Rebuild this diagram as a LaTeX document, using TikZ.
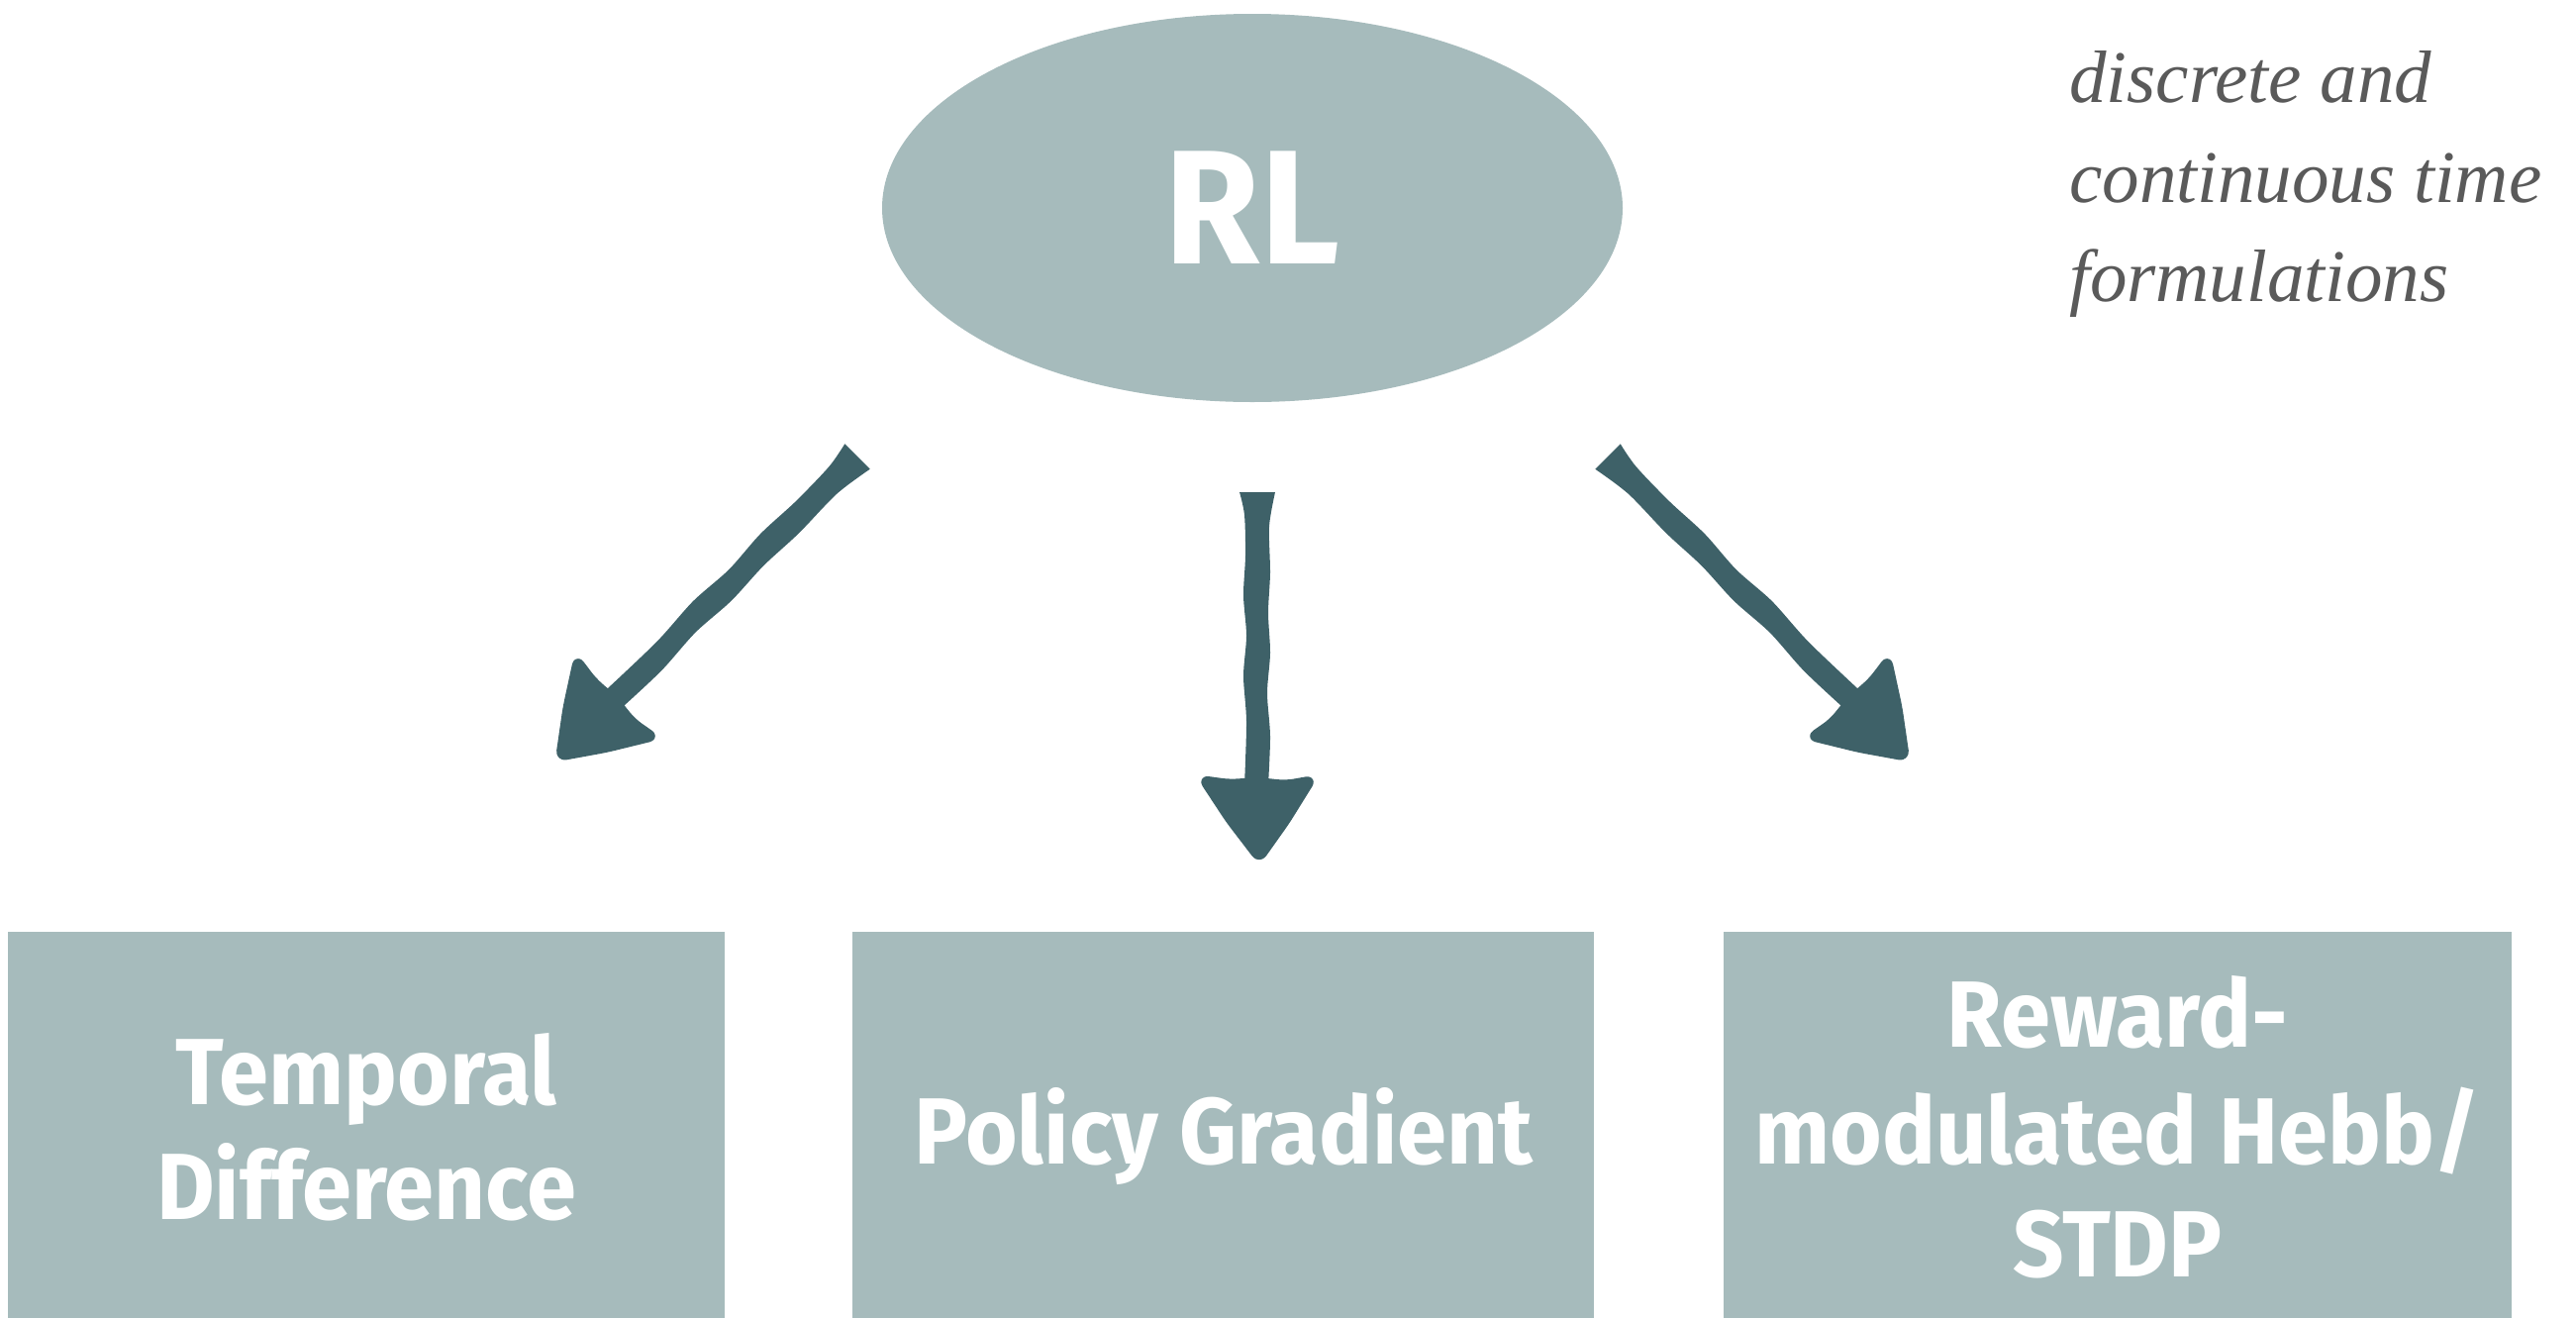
\documentclass[tikz,border=0pt]{standalone}
\usepackage{fontspec}
\setsansfont{Fira Sans}[FakeStretch=0.95]
\newfontfamily\notefont{Liberation Serif}
\usetikzlibrary{shapes.geometric}
\definecolor{boxfill}{HTML}{A6BBBC}
\definecolor{arrowcol}{HTML}{3E6168}
\definecolor{notecol}{HTML}{5A5A5A}
\tikzset{
  catbox/.style={fill=boxfill, draw=none},
  boxtext/.style={text=white, font=\sffamily\bfseries\fontsize{95}{116}\selectfont, align=center, inner sep=0pt},
  arrowbody/.style={fill=arrowcol, draw=none},
  headtip/.style={fill=arrowcol, draw=arrowcol, line width=6pt, line join=round, rounded corners=8pt},
  notetext/.style={text=notecol, font=\notefont\itshape\fontsize{75}{101}\selectfont, inner sep=0pt, anchor=base west}
}
% hand-drawn arrow: #1 = shaft length, #2 = total length (local +y points along arrow)
\newcommand\handarrow[2]{%
  \fill[arrowbody] plot[smooth] coordinates {(-18,0) (-13,{0.08*#1}) (-12,{0.22*#1}) (-14,{0.36*#1}) (-11,{0.5*#1}) (-14,{0.64*#1}) (-11,{0.8*#1}) (-13,{#1+6})}
    -- plot[smooth] coordinates {(11,{#1+6}) (13,{0.85*#1}) (10,{0.7*#1}) (13,{0.56*#1}) (11,{0.42*#1}) (13,{0.28*#1}) (12,{0.12*#1}) (18,0)} -- cycle;
  \filldraw[headtip] (-57,{#1-1}) -- (-28,{#1+3}) -- (0,{#1+1}) -- (29,{#1+4}) -- (57,{#1-1})
    -- (30,{0.5*(#1+#2)+1}) -- (2,{#2-1}) -- (-29,{0.5*(#1+#2)}) -- cycle;
}
\begin{document}
\begin{tikzpicture}[x=1pt,y=-1pt]
\useasboundingbox (0,0) rectangle (2602,1331);
% top ellipse
\node[ellipse, fill=boxfill, minimum width=748pt, minimum height=392pt, inner sep=0pt] (rl) at (1265,210) {};
\node[text=white, font=\sffamily\bfseries\fontsize{164}{164}\selectfont, inner sep=0pt, anchor=base] (rllabel) at (1265,266) {RL};
% boxes
\fill[catbox] (8,941) rectangle (732,1331);
\fill[catbox] (861,941) rectangle (1610,1331);
\fill[catbox] (1741,941) rectangle (2537,1331);
\node[boxtext, anchor=base] (td1) at (370,1115) {Temporal};
\node[boxtext, anchor=base] (td2) at (370,1231) {Difference};
\node[boxtext, anchor=base] (pg) at (1236,1175) {Policy Gradient};
\node[boxtext, anchor=base] (rm1) at (2139,1057) {Reward-};
\node[boxtext, anchor=base] (rm2) at (2139,1175) {modulated Hebb/};
\node[boxtext, anchor=base] (rm3) at (2139,1289) {STDP};
% note
\node[notetext] (n1) at (2090,103) {discrete and};
\node[notetext] (n2) at (2090,204) {continuous time};
\node[notetext] (n3) at (2090,304) {formulations};
% arrow tails
\coordinate (lA) at (866,461);
\coordinate (mA) at (1270,497);
\coordinate (rA) at (1624,461);
\begin{scope}[shift={(lA)}, rotate=-45]
  \handarrow{345}{430}
\end{scope}
\begin{scope}[shift={(mA)}]
  \handarrow{290}{373}
\end{scope}
\begin{scope}[shift={(rA)}, rotate=45, xscale=-1]
  \handarrow{345}{430}
\end{scope}
\end{tikzpicture}
\end{document}
